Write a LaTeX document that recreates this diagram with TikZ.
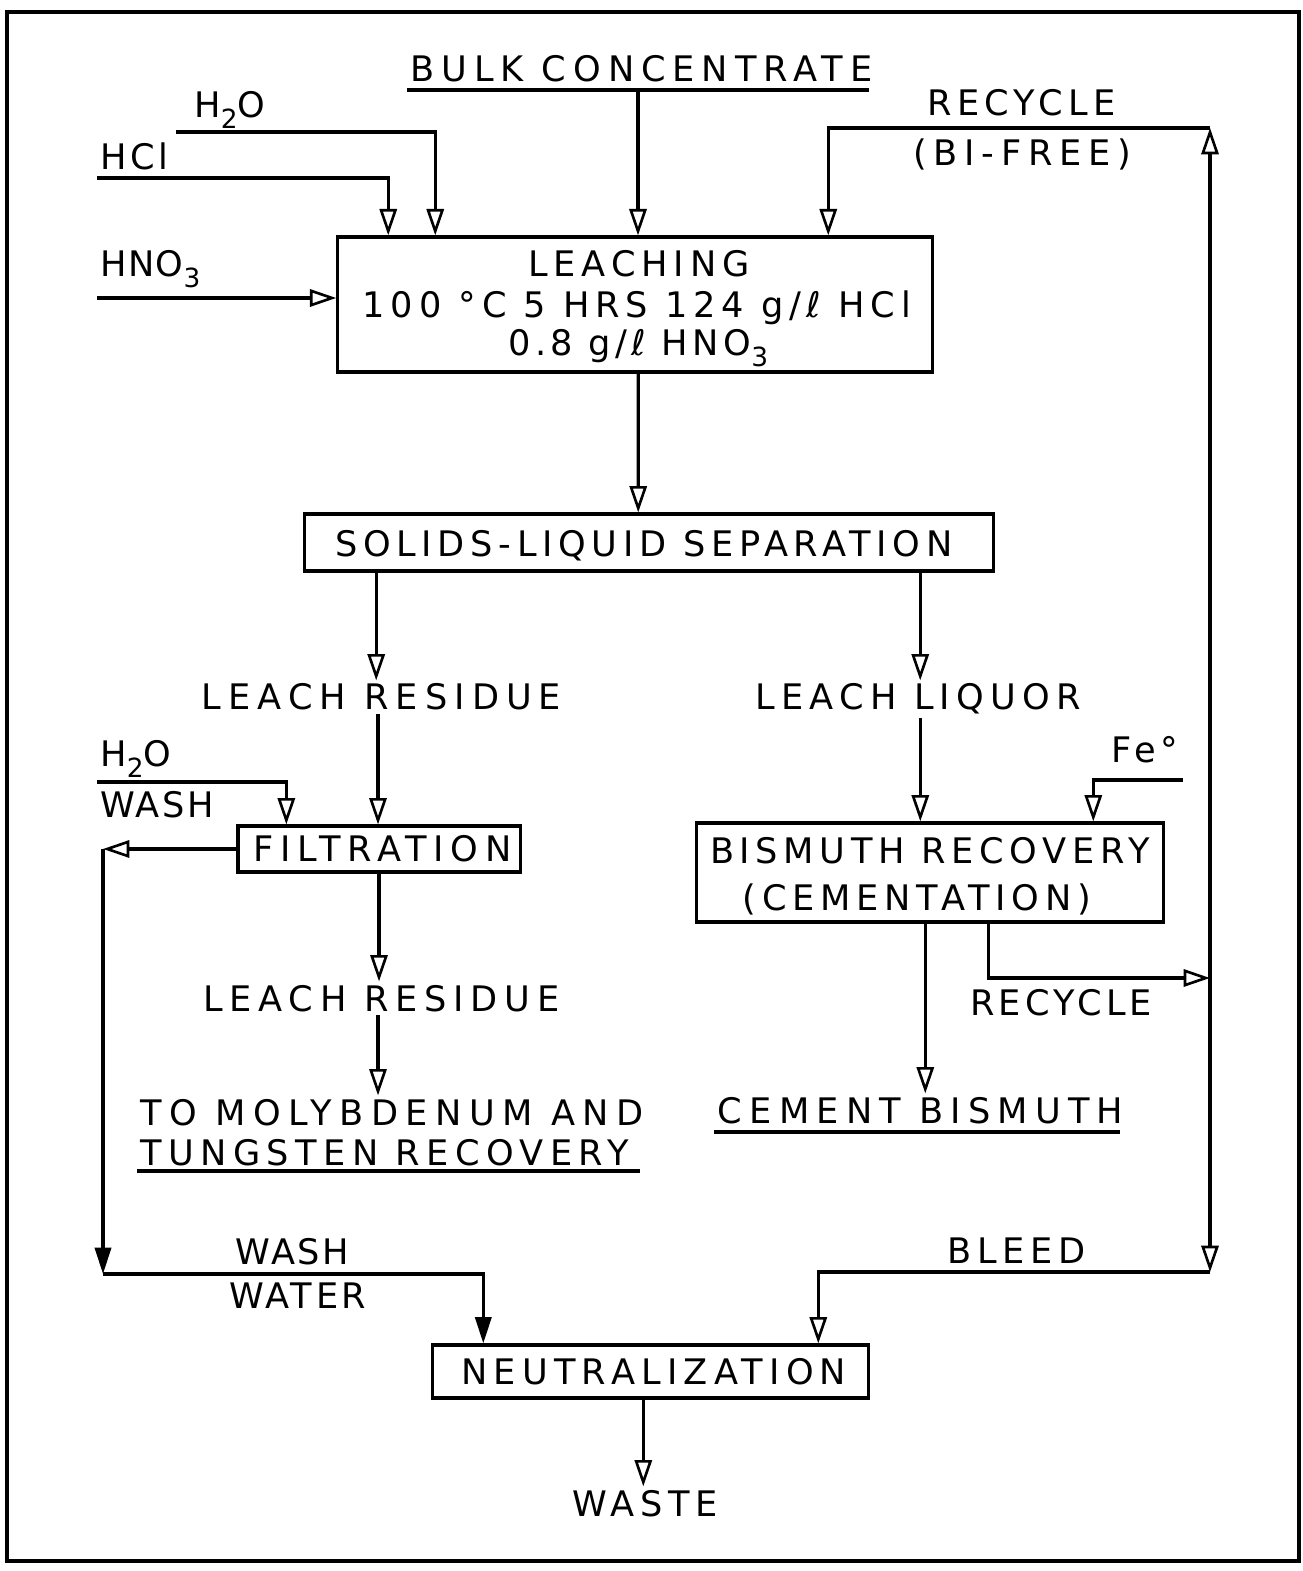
\documentclass[tikz,border=0pt]{standalone}
\usepackage{fontspec}
\setmainfont{DejaVu Sans}
\usetikzlibrary{arrows.meta,calc}
\makeatletter
\newcommand\fitt[3]{\begingroup
 \setbox0=\hbox{#3}%
 \pgfmathsetmacro\fitS{(#1*0.284528-\the\wd0)/(#2-1)}%
 \pgfmathsetmacro\fitL{100*\fitS/\f@size}%
 \edef\fitDo{\noexpand\addfontfeatures{LetterSpace=\fitL}}\fitDo
 #3\kern-\fitS pt\endgroup}
\makeatother
\newcommand\sbs[1]{\raisebox{-0.3em}{\fontsize{7.5}{8}\selectfont #1}}
\begin{document}
\begin{tikzpicture}[x=0.01cm,y=-0.01cm,
 ln/.style={line width=0.9pt},
 arr/.style={ln,-{Triangle[open,length=7.5pt,width=4.9pt,line width=0.75pt]}},
 arrf/.style={ln,-{Triangle[length=7.5pt,width=4.6pt]}},
 box/.style={draw,line width=0.9pt,inner sep=0pt},
 lbl/.style={inner sep=0pt,outer sep=1pt,anchor=base},
 lblw/.style={lbl,anchor=base west}]
\useasboundingbox (0,0) rectangle (1302,1571);
\draw[line width=1pt] (7,12) rectangle (1299,1561);

% boxes
\node[box,minimum width=5.94cm,minimum height=1.35cm] (leach) at (635,304.5) {};
\node[lbl] (leachA) at (636,277) {\fitt{221}{8}{LEACHING}};
\node[lbl] (leachB) at (634,318) {\fitt{548}{18}{100 °C 5 HRS 124 g/ℓ HCl}};
\node[lbl] (leachC) at (636,356) {\fitt{264}{10}{0.8 g/ℓ HNO\sbs{3}}};
\node[box,minimum width=6.88cm,minimum height=0.57cm] (solids) at (649,542.5) {};
\node[lbl] (solidsT) at (641,557) {\fitt{617}{23}{SOLIDS-LIQUID SEPARATION}};
\node[box,minimum width=2.82cm,minimum height=0.46cm] (filt) at (379,849) {\fitt{258}{10}{FILTRATION}};
\node[box,minimum width=4.66cm,minimum height=0.99cm] (bis) at (930,872.5) {};
\node[lbl] (bisA) at (927,863) {\fitt{439}{15}{BISMUTH RECOVERY}};
\node[lbl] (bisB) at (914,910) {\fitt{348}{13}{(CEMENTATION)}};
\node[box,minimum width=4.35cm,minimum height=0.53cm] (neut) at (650.5,1371.5) {\fitt{385}{14}{NEUTRALIZATION}};

% labels
\node[lbl] (bulk) at (638,82) {\fitt{462}{15}{BULK CONCENTRATE}};
\node[lbl] (h2o) at (230,118) {\fitt{70}{3}{H\sbs{2}O}};
\node[lblw] (hcl) at (97,170) {\fitt{68}{3}{HCl}};
\node[lblw] (hno) at (97,277) {\fitt{101}{4}{HNO\sbs{3}}};
\node[lbl] (rec1) at (1019,116) {\fitt{188}{7}{RECYCLE}};
\node[lbl] (bifree) at (1019,166) {\fitt{218}{9}{(BI-FREE)}};
\node[lbl] (res1) at (378,710) {\fitt{359}{12}{LEACH RESIDUE}};
\node[lbl] (liq) at (915,710) {\fitt{325}{11}{LEACH LIQUOR}};
\node[lblw] (h2ow) at (97,767) {\fitt{78}{3}{H\sbs{2}O}};
\node[lblw] (wash1) at (97,817) {\fitt{113}{4}{WASH}};
\node[lblw] (fe) at (1108,762) {\fitt{67}{3}{Fe°}};
\node[lbl] (rec2) at (1059,1015) {\fitt{182}{7}{RECYCLE}};
\node[lbl] (res2) at (378,1011) {\fitt{356}{12}{LEACH RESIDUE}};
\node[lblw] (moly1) at (137,1125) {\fitt{503}{15}{TO MOLYBDENUM AND}};
\node[lblw] (moly2) at (137,1165) {\fitt{488}{16}{TUNGSTEN RECOVERY}};
\node[lbl] (cem) at (917,1123) {\fitt{405}{13}{CEMENT BISMUTH}};
\node[lbl] (wash2) at (291,1264) {\fitt{113}{4}{WASH}};
\node[lbl] (water) at (296,1308) {\fitt{137}{5}{WATER}};
\node[lbl] (bleed) at (1014,1263) {\fitt{138}{5}{BLEED}};
\node[lbl] (waste) at (642,1516) {\fitt{145}{5}{WASTE}};

% underlines
\draw[ln] ([yshift=-0.08cm]bulk.base west) -- ([yshift=-0.08cm]bulk.base east);
\draw[ln] ($(moly2.base west)+(0,6)$) -- ($(moly1.base east)+(0,46)$);
\draw[ln] ([yshift=-0.09cm]cem.base west) -- ([yshift=-0.09cm]cem.base east);

% free ends and junctions
\coordinate (h2oS) at (176,132);
\coordinate (hclS) at (97,178);
\coordinate (hnoS) at (97,298);
\coordinate (rt) at (1210,128);
\coordinate (rj) at (1210,978);
\coordinate (rb) at (1210,1272);
\coordinate (washS) at (97,782);
\coordinate (wl) at (103,849);
\coordinate (wb) at (103,1274);
\coordinate (feS) at (1183,780);

% connectors
\draw[arr] ([yshift=-0.08cm]bulk.base) -- (bulk.base |- leach.north);
\draw[arr] (h2oS) -| ($(leach.north west)+(99,0)$);
\draw[arr] (hclS) -| ($(leach.north west)+(52,0)$);
\draw[arr] (hnoS) -- (hnoS -| leach.west);
\draw[arr] (rt) -| ($(leach.north west)+(492,0)$);
\draw[arr] ($(leach.south west)+(302,0)$) -- ($(solids.north west)+(335,0)$);
\coordinate (sR) at ($(solids.south west)+(73,0)$);
\coordinate (sL) at ($(solids.south west)+(617,0)$);
\draw[arr] (sR) -- (sR |- res1.north);
\draw[arr] (sL) -- (sL |- liq.north);
\draw[arr] (res1.south) -- (res1.south |- filt.north);
\draw[arr] (washS) -| ($(filt.north west)+(50,0)$);
\draw[arr] (filt.west) -- (wl);
\draw[arrf] (wl) -- (wb);
\draw[arrf] (wb) -| ($(neut.north west)+(52,0)$);
\draw[arr] (filt.south) -- (filt.south |- res2.north);
\draw[arr] (res2.south) -- (res2.south |- moly1.north);
\coordinate (bT) at ($(bis.north west)+(225,0)$);
\draw[arr] (liq.south -| bT) -- (bT);
\draw[arr] (feS) -| ($(bis.north west)+(398,0)$);
\coordinate (bB) at ($(bis.south west)+(230,0)$);
\draw[arr] (bB) -- (bB |- cem.north);
\coordinate (bR) at ($(bis.south west)+(293,0)$);
\draw[arr] (bR) |- (rj);
\draw[arr] (rj) -- (rt);
\draw[arr] (rj) -- (rb);
\draw[arr] (rb) -| ($(neut.north west)+(387,0)$);
\coordinate (nB) at ($(neut.south west)+(212,0)$);
\draw[arr] (nB) -- (nB |- waste.north);
\end{tikzpicture}
\end{document}
